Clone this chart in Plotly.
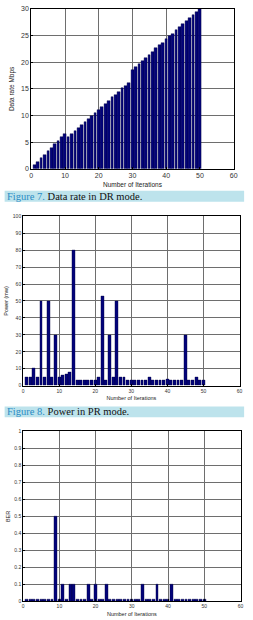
import plotly.graph_objects as go

W, H = 253, 620

iterations = list(range(1, 51))

data_rate = [0.7, 1.3, 2.0, 2.6, 3.3, 4.0, 4.6, 5.3, 5.9, 6.6,
             6.0, 6.5, 7.1, 7.6, 8.2, 8.8, 9.4, 9.9, 10.5, 11.1,
             11.6, 12.2, 12.8, 13.4, 13.9, 14.5, 15.1, 15.6, 16.2, 18.6,
             19.2, 19.7, 20.3, 20.9, 21.4, 22.0, 22.6, 23.2, 23.7, 24.3,
             24.9, 25.4, 26.0, 26.6, 27.1, 27.7, 28.3, 28.8, 29.4, 30.0]

power_mw = [5, 5, 10, 5, 50, 5, 50, 5, 30, 5,
            6, 7, 8, 80, 3, 3, 3, 3, 3, 3,
            5, 53, 3, 30, 5, 50, 5, 5, 3, 3,
            3, 3, 3, 3, 5, 3, 3, 3, 3, 4,
            3, 3, 3, 3, 30, 3, 3, 5, 3, 3]

ber = [0.01, 0.01, 0.01, 0.01, 0.01, 0.01, 0.01, 0.01, 0.5, 0.01,
       0.1, 0.01, 0.1, 0.1, 0.01, 0.01, 0.01, 0.1, 0.01, 0.1,
       0.01, 0.01, 0.1, 0.01, 0.01, 0.01, 0.01, 0.01, 0.01, 0.01,
       0.01, 0.01, 0.1, 0.01, 0.01, 0.01, 0.1, 0.01, 0.01, 0.01,
       0.1, 0.01, 0.01, 0.01, 0.01, 0.01, 0.01, 0.01, 0.01, 0.01]

x_ticks = [0, 10, 20, 30, 40, 50, 60]
rate_ticks = [0, 5, 10, 15, 20, 25, 30]
power_ticks = [0, 10, 20, 30, 40, 50, 60, 70, 80, 90, 100]
ber_ticks = [0, 0.1, 0.2, 0.3, 0.4, 0.5, 0.6, 0.7, 0.8, 0.9, 1]
ber_tick_labels = ["0", "0.1", "0.2", "0.3", "0.4", "0.5", "0.6", "0.7", "0.8", "0.9", "1"]

captions = [("Figure 7.", " Data rate in DR mode."), ("Figure 8.", " Power in PR mode.")]

BAR = "#03037a"
GRID = "#6e6e6e"

def px_x(p):
    return p / W

def px_y(p):
    return 1 - p / H

fig = go.Figure()
bar_style = dict(width=0.8, marker=dict(color=BAR, line=dict(color="#000040", width=0.4)), showlegend=False)
fig.add_trace(go.Bar(x=iterations, y=data_rate, xaxis="x", yaxis="y", **bar_style))
fig.add_trace(go.Bar(x=iterations, y=power_mw, xaxis="x2", yaxis="y2", **bar_style))
fig.add_trace(go.Bar(x=iterations, y=ber, xaxis="x3", yaxis="y3", **bar_style))

def xaxis(dom, anchor, size, title, tsize, standoff):
    return dict(domain=dom, anchor=anchor, range=[0, 60], tickvals=x_ticks,
                showgrid=True, gridcolor=GRID, gridwidth=1, zeroline=False,
                showline=True, linecolor="black", linewidth=1, mirror=True,
                ticks="inside", ticklen=2, tickcolor="black",
                tickfont=dict(family="Liberation Sans", size=size, color="#333"),
                title=dict(text=title, font=dict(family="Liberation Sans", size=tsize, color="#222"), standoff=standoff))

def yaxis(dom, anchor, rng, vals, size, title, tsize, standoff, text=None):
    d = dict(domain=dom, anchor=anchor, range=rng, tickvals=vals,
             showgrid=True, gridcolor=GRID, gridwidth=1, zeroline=False,
             showline=True, linecolor="black", linewidth=1, mirror=True,
             ticks="inside", ticklen=2, tickcolor="black",
             tickfont=dict(family="Liberation Sans", size=size, color="#333"),
             title=dict(text=title, font=dict(family="Liberation Sans", size=tsize, color="#222"), standoff=standoff))
    if text is not None:
        d["ticktext"] = text
    return d

fig.update_layout(
    width=W, height=H, margin=dict(l=0, r=0, t=0, b=0),
    paper_bgcolor="white", plot_bgcolor="white", bargap=0,
    xaxis=xaxis([px_x(30), px_x(237.3)], "y", 7, "Number of Iterations", 6.5, 4),
    yaxis=yaxis([px_y(166.7), px_y(5)], "x", [0, 30], rate_ticks, 7, "Data rate Mbps", 6.5, 5),
    xaxis2=xaxis([px_x(21.7), px_x(243.3)], "y2", 5, "Number of Iterations", 5.5, 3),
    yaxis2=yaxis([px_y(386), px_y(214.7)], "x2", [0, 100], power_ticks, 5, "Power (mw)", 5.5, 3),
    xaxis3=xaxis([px_x(21.7), px_x(244.3)], "y3", 5, "Number of Iterations", 5.5, 3),
    yaxis3=yaxis([px_y(604.3), px_y(432.3)], "x3", [0, 1], ber_ticks, 5, "BER", 5.5, 3, ber_tick_labels),
)

bands = [(189, 200), (407, 418)]
for (y0, y1), (fig_lbl, rest) in zip(bands, captions):
    fig.add_shape(type="rect", xref="paper", yref="paper",
                  x0=px_x(2.7), x1=px_x(248), y0=px_y(y1), y1=px_y(y0),
                  fillcolor="#bde3ec", line=dict(width=0), layer="below")
    fig.add_annotation(xref="paper", yref="paper", x=px_x(3.5), y=px_y((y0 + y1) / 2),
                       xanchor="left", yanchor="middle", showarrow=False,
                       text=f"<span style='color:#2b8cc4'>{fig_lbl}</span>{rest}",
                       font=dict(family="Liberation Serif", size=10.5, color="#111"))

fig.write_html("out.html")
